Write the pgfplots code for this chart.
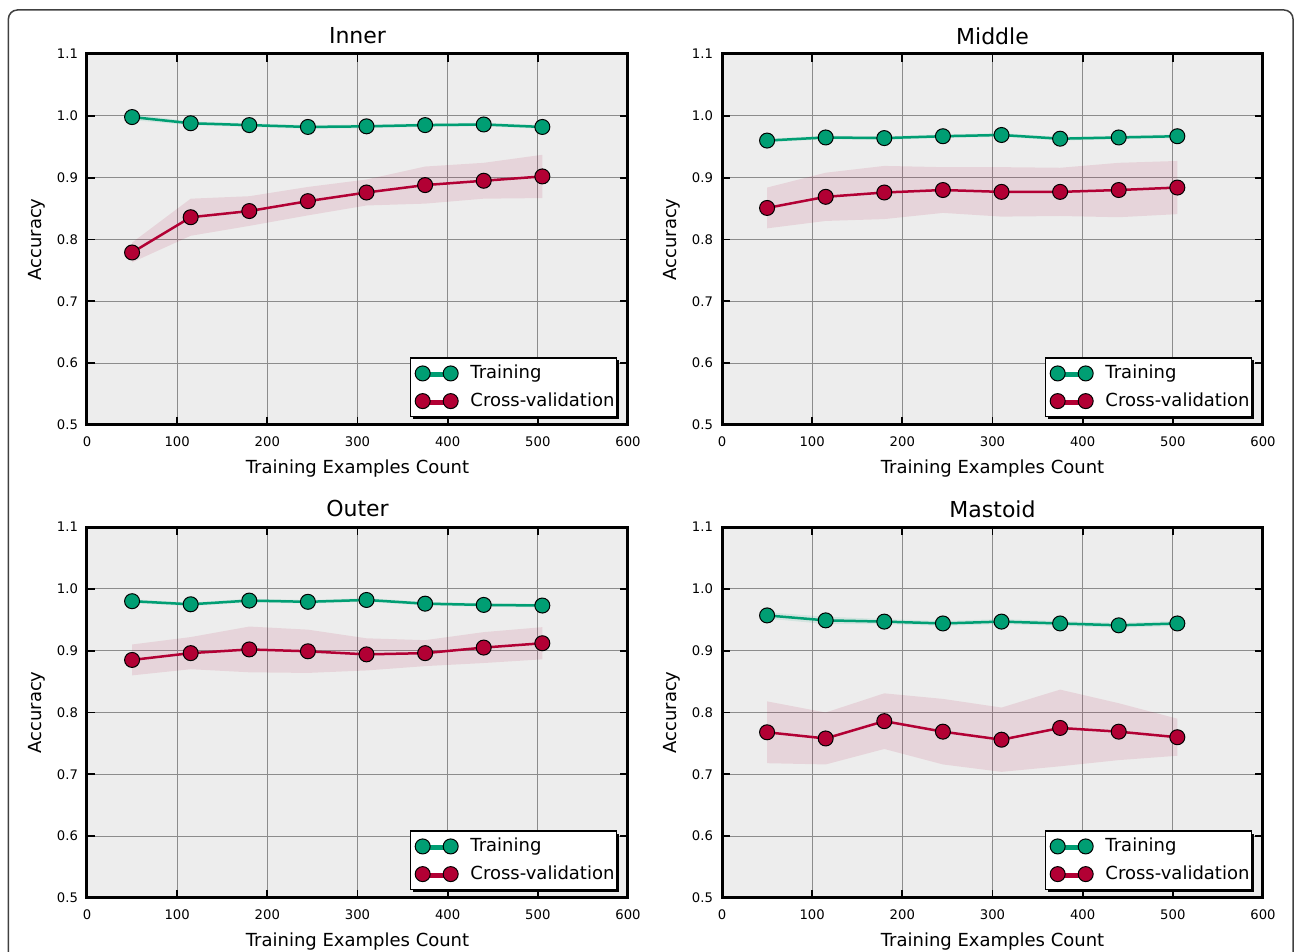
\documentclass[border=0pt]{standalone}
\usepackage{fontspec}
\setmainfont{DejaVu Sans}
\usepackage{pgfplots}
\pgfplotsset{compat=1.18}
\usetikzlibrary{shadows}
\definecolor{trc}{RGB}{0,158,115}
\definecolor{cvc}{RGB}{178,0,52}
\pgfplotsset{
 lc/.style={
  width=270.5pt, height=185.5pt, scale only axis, anchor=south west,
  xmin=0, xmax=600, ymin=0.5, ymax=1.1,
  xtick={0,100,200,300,400,500,600},
  ytick={0.5,0.6,0.7,0.8,0.9,1.0,1.1},
  axis background/.style={fill=black!7},
  grid=major, grid style={black!45, line width=0.5pt},
  tick align=inside, major tick length=4pt,
  tick style={black, line width=0.9pt},
  axis line style={black, line width=1.5pt},
  /pgf/number format/assume math mode=true,
  ticklabel style={font=\fontsize{6.6}{8}\selectfont},
  xticklabel style={yshift=-2.5pt},
  yticklabel style={xshift=-1pt, /pgf/number format/fixed, /pgf/number format/fixed zerofill, /pgf/number format/precision=1},
  title style={at={(axis description cs:0.5,1.0165)}, anchor=center, font=\fontsize{11}{13}\selectfont},
  xlabel style={at={(axis description cs:0.5,-0.1186)}, anchor=center, font=\fontsize{9}{11}\selectfont},
  ylabel style={at={(axis description cs:-0.0924,0.5)}, anchor=center, font=\fontsize{9}{11}\selectfont},
  xlabel={Training Examples Count}, ylabel={Accuracy},
  legend style={at={(rel axis cs:0.98,0.021)}, anchor=south east, draw=black, line width=0.75pt,
    fill=white, font=\fontsize{9}{11}\selectfont, row sep=1.5pt, column sep=0pt,
    inner xsep=0pt, inner ysep=1.5pt, nodes={inner xsep=1pt},
    drop shadow={shadow xshift=1.2pt, shadow yshift=-1.2pt, fill=black, opacity=1}},
  legend cell align=left,
  legend image code/.code={\draw[##1] plot coordinates {(0pt,0pt) (14pt,0pt)}; \path (-5.5pt,0pt) (22.25pt,0pt);},
 },
 trband/.style={fill=trc, fill opacity=0.1, draw=none, forget plot},
 cvband/.style={fill=cvc, fill opacity=0.1, draw=none, forget plot},
 trline/.style={trc, line width=1.25pt, mark=*, mark size=3.75pt, mark options={fill=trc, draw=black, line width=0.5pt}},
 cvline/.style={cvc, line width=1.25pt, mark=*, mark size=3.75pt, mark options={fill=cvc, draw=black, line width=0.5pt}},
}
\begin{document}
\begin{tikzpicture}
\useasboundingbox (0,0) rectangle (648pt,476pt);
\draw[black!75, line width=0.75pt, rounded corners=4.5pt] (4.2pt,-20pt) rectangle (646.5pt,471pt);
% Inner
\begin{axis}[lc, at={(43.5pt,263.5pt)}, title={Inner}]
\addplot[trband] coordinates {(50,1.003)(115,0.991)(180,0.988)(245,0.985)(310,0.986)(375,0.988)(440,0.989)(505,0.985)
 (505,0.979)(440,0.983)(375,0.982)(310,0.980)(245,0.979)(180,0.982)(115,0.985)(50,0.993)};
\addplot[cvband] coordinates {(50,0.795)(115,0.866)(180,0.870)(245,0.885)(310,0.897)(375,0.918)(440,0.924)(505,0.937)
 (505,0.867)(440,0.866)(375,0.858)(310,0.855)(245,0.839)(180,0.822)(115,0.806)(50,0.763)};
\addplot[trline] coordinates {(50,0.998)(115,0.988)(180,0.985)(245,0.982)(310,0.983)(375,0.985)(440,0.986)(505,0.982)};
\addlegendentry{Training}
\addplot[cvline] coordinates {(50,0.779)(115,0.836)(180,0.846)(245,0.862)(310,0.876)(375,0.888)(440,0.895)(505,0.902)};
\addlegendentry{Cross-validation}
\end{axis}
% Middle
\begin{axis}[lc, at={(361pt,263.5pt)}, title={Middle}]
\addplot[trband] coordinates {(50,0.963)(115,0.968)(180,0.967)(245,0.970)(310,0.972)(375,0.966)(440,0.968)(505,0.970)
 (505,0.964)(440,0.962)(375,0.960)(310,0.966)(245,0.964)(180,0.961)(115,0.962)(50,0.957)};
\addplot[cvband] coordinates {(50,0.884)(115,0.908)(180,0.919)(245,0.917)(310,0.917)(375,0.916)(440,0.924)(505,0.927)
 (505,0.841)(440,0.836)(375,0.838)(310,0.837)(245,0.843)(180,0.833)(115,0.830)(50,0.818)};
\addplot[trline] coordinates {(50,0.960)(115,0.965)(180,0.964)(245,0.967)(310,0.969)(375,0.963)(440,0.965)(505,0.967)};
\addlegendentry{Training}
\addplot[cvline] coordinates {(50,0.851)(115,0.869)(180,0.876)(245,0.880)(310,0.877)(375,0.877)(440,0.880)(505,0.884)};
\addlegendentry{Cross-validation}
\end{axis}
% Outer
\begin{axis}[lc, at={(43.5pt,27pt)}, title={Outer}]
\addplot[trband] coordinates {(50,0.983)(115,0.978)(180,0.984)(245,0.982)(310,0.985)(375,0.979)(440,0.977)(505,0.976)
 (505,0.970)(440,0.971)(375,0.973)(310,0.979)(245,0.976)(180,0.978)(115,0.972)(50,0.977)};
\addplot[cvband] coordinates {(50,0.910)(115,0.922)(180,0.939)(245,0.934)(310,0.920)(375,0.917)(440,0.930)(505,0.938)
 (505,0.886)(440,0.880)(375,0.875)(310,0.868)(245,0.864)(180,0.865)(115,0.870)(50,0.860)};
\addplot[trline] coordinates {(50,0.980)(115,0.975)(180,0.981)(245,0.979)(310,0.982)(375,0.976)(440,0.974)(505,0.973)};
\addlegendentry{Training}
\addplot[cvline] coordinates {(50,0.885)(115,0.896)(180,0.902)(245,0.899)(310,0.894)(375,0.896)(440,0.905)(505,0.912)};
\addlegendentry{Cross-validation}
\end{axis}
% Mastoid
\begin{axis}[lc, at={(361pt,27pt)}, title={Mastoid}]
\addplot[trband] coordinates {(50,0.962)(115,0.955)(180,0.951)(245,0.948)(310,0.951)(375,0.948)(440,0.945)(505,0.948)
 (505,0.940)(440,0.937)(375,0.940)(310,0.943)(245,0.940)(180,0.943)(115,0.943)(50,0.952)};
\addplot[cvband] coordinates {(50,0.818)(115,0.800)(180,0.831)(245,0.822)(310,0.808)(375,0.837)(440,0.815)(505,0.790)
 (505,0.730)(440,0.723)(375,0.713)(310,0.704)(245,0.716)(180,0.741)(115,0.716)(50,0.718)};
\addplot[trline] coordinates {(50,0.957)(115,0.949)(180,0.947)(245,0.944)(310,0.947)(375,0.944)(440,0.941)(505,0.944)};
\addlegendentry{Training}
\addplot[cvline] coordinates {(50,0.768)(115,0.758)(180,0.786)(245,0.769)(310,0.756)(375,0.775)(440,0.769)(505,0.760)};
\addlegendentry{Cross-validation}
\end{axis}
\end{tikzpicture}
\end{document}
